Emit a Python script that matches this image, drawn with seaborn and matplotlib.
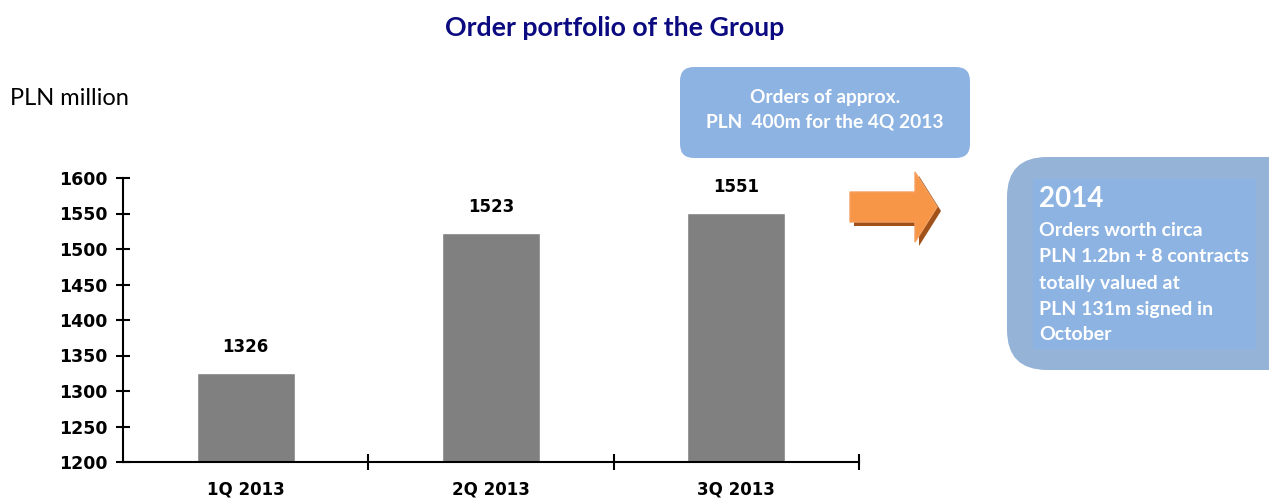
import matplotlib
matplotlib.use("Agg")
import matplotlib.pyplot as plt
import seaborn as sns
import pandas as pd
from matplotlib.patches import FancyBboxPatch, Polygon, Rectangle

# ---- data ----
categories = ["1Q 2013", "2Q 2013", "3Q 2013"]
values = [1326, 1523, 1551]
y_ticks = [1200, 1250, 1300, 1350, 1400, 1450, 1500, 1550, 1600]
title = "Order portfolio of the Group"
unit_label = "PLN million"
box1_lines = ["Orders of approx.", "PLN  400m for the 4Q 2013"]
box2_head = "2014"
box2_lines = ["Orders worth circa", "PLN 1.2bn + 8 contracts", "totally valued at",
              "PLN 131m signed in", "October"]

sns.set_theme(style="white")
plt.rcParams['font.family'] = ['Lato', 'DejaVu Sans']
NUM_FONT = ['DejaVu Sans']

W, H = 1269, 501
fig = plt.figure(figsize=(W / 100, H / 100), dpi=100)
fig.patch.set_facecolor("white")

ax = fig.add_axes([123 / W, 1 - 462 / H, 736 / W, 284 / H])
df = pd.DataFrame({"quarter": categories, "value": values})
sns.barplot(data=df, x="quarter", y="value", color="#808080", width=0.4,
            saturation=1, ax=ax)
ax.set_xlim(-0.5, 2.5)
ax.set_ylim(1200, 1600)
ax.set_yticks(y_ticks)
ax.set_xlabel("")
ax.set_ylabel("")
for s in ["top", "right"]:
    ax.spines[s].set_visible(False)
for s in ["left", "bottom"]:
    ax.spines[s].set_color("black")
    ax.spines[s].set_linewidth(1.5)
ax.tick_params(axis="y", direction="inout", length=10, width=1.5, colors="black",
               labelsize=12.5, pad=6, left=True)
ax.tick_params(axis="x", which="major", length=0, labelsize=12, pad=13, colors="black")
ax.set_xticks([0.5, 1.5, 2.5], minor=True)
ax.tick_params(axis="x", which="minor", direction="inout", length=12, width=1.5,
               colors="black", bottom=True)
for lab in ax.get_yticklabels() + ax.get_xticklabels():
    lab.set_fontweight("bold")
    lab.set_family(NUM_FONT)
ax.bar_label(ax.containers[0], labels=[str(v) for v in values], padding=12,
             fontsize=12, fontweight="bold", color="black", family=NUM_FONT)

# ---- overlay in pixel coordinates ----
ov = fig.add_axes([0, 0, 1, 1], zorder=5)
ov.set_xlim(0, W)
ov.set_ylim(H, 0)
ov.axis("off")
ov.patch.set_alpha(0)

ov.text(615, 28, title, ha="center", va="center", fontsize=19.3, fontweight="bold",
        color="#0B0A80")
ov.text(10, 98, unit_label, ha="left", va="center", fontsize=17, color="black")

# box 1
ov.add_patch(FancyBboxPatch((680, 67), 290, 91, boxstyle="round,pad=0,rounding_size=14",
                            facecolor="#8DB3E2", edgecolor="none"))
ov.text(825, 97, box1_lines[0], ha="center", va="center", fontsize=13.8,
        fontweight="bold", color="white")
ov.text(825, 122, box1_lines[1], ha="center", va="center", fontsize=13.8,
        fontweight="bold", color="white")

# arrow with shadow
shadow = [(854, 196), (919, 196), (919, 176), (941, 211), (919, 246), (919, 226), (854, 226)]
ov.add_patch(Polygon(shadow, closed=True, facecolor="#A0521A", edgecolor="none"))
arrow = [(850, 192), (915, 192), (915, 172), (937, 207), (915, 242), (915, 222), (850, 222)]
ov.add_patch(Polygon(arrow, closed=True, facecolor="#F79646", edgecolor="#F5A060"))

# box 2
ov.add_patch(FancyBboxPatch((1007, 157), 300, 213, boxstyle="round,pad=0,rounding_size=40",
                            facecolor="#95B3D7", edgecolor="none"))
ov.add_patch(Rectangle((1033, 179), 223, 170, facecolor="#8DB3E2", edgecolor="none"))
ov.text(1039, 199, box2_head, ha="left", va="center", fontsize=20,
        fontweight="bold", color="white")
for i, line in enumerate(box2_lines):
    ov.text(1039, 231 + i * 26, line, ha="left", va="center", fontsize=14,
            fontweight="bold", color="white")

fig.savefig("out.png", dpi=100)
